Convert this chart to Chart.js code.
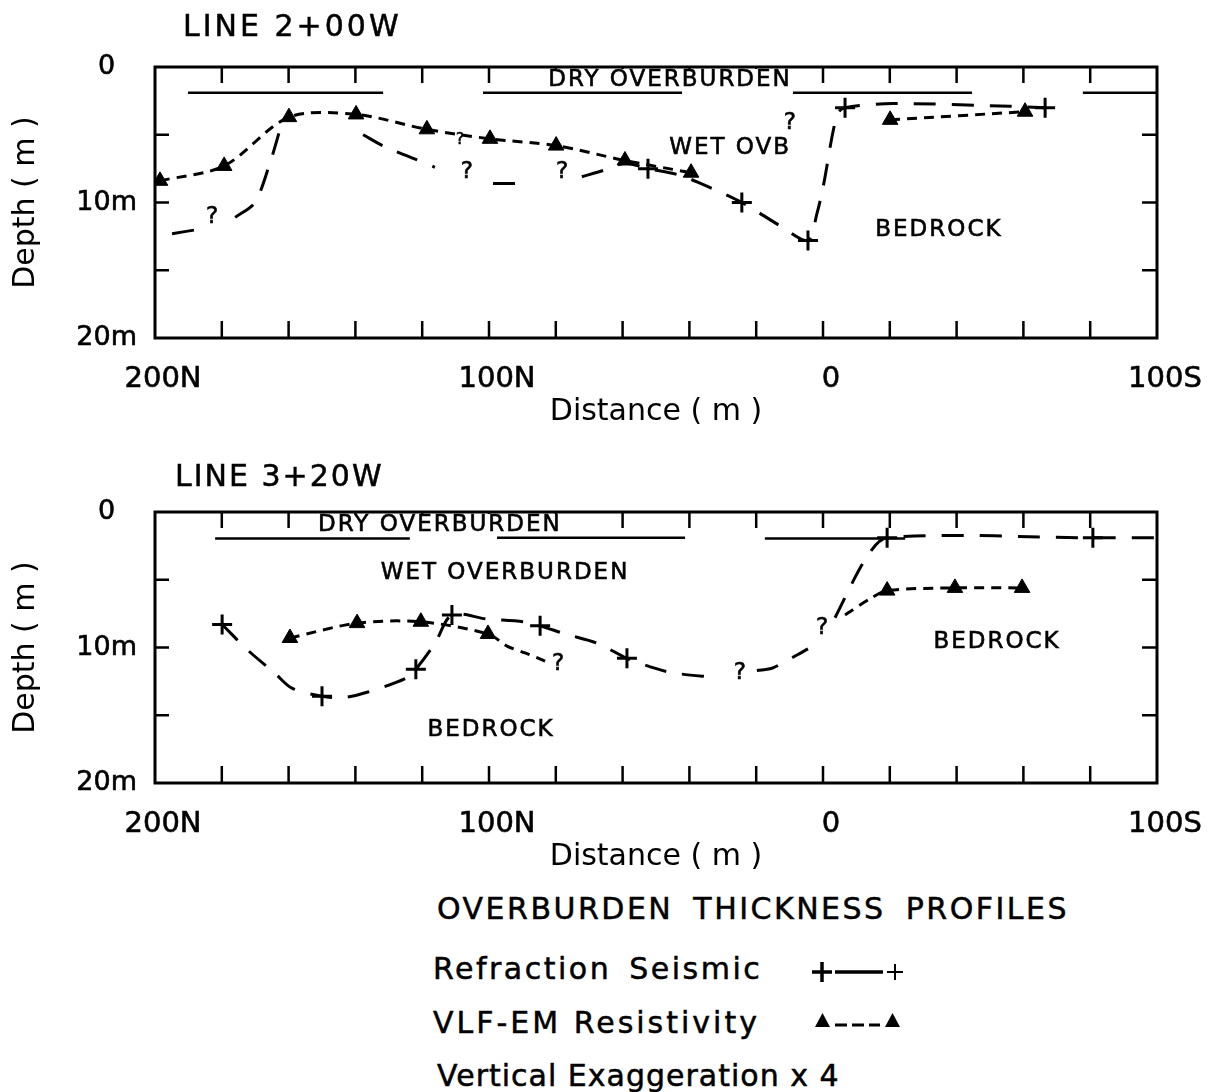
<!DOCTYPE html>
<html>
<head>
<meta charset="utf-8">
<script src="https://cdn.jsdelivr.net/npm/chart.js@4.4.0/dist/chart.umd.min.js"></script>
<style>
html,body{margin:0;padding:0;background:#fff;}
#page{position:relative;width:1211px;height:1092px;overflow:hidden;font-family:"DejaVu Sans",sans-serif;color:#000;background:#fff;}
canvas{position:absolute;left:0;}
.t{position:absolute;white-space:nowrap;line-height:1;font-size:30px;-webkit-text-stroke:0.5px #000;}
svg{position:absolute;}
</style>
</head>
<body>
<div id="page">
  <canvas id="c1" width="1211" height="440" style="top:0px;width:1211px;height:440px"></canvas>
  <canvas id="c2" width="1211" height="440" style="top:445px;width:1211px;height:440px"></canvas>
  <div class="t" style="left:183px;top:11px;letter-spacing:3px;">LINE 2+00W</div>
  <div class="t" style="left:175px;top:461px;letter-spacing:2px;">LINE 3+20W</div>
  <div class="t" style="left:437px;top:894px;letter-spacing:2.5px;word-spacing:8px;">OVERBURDEN THICKNESS PROFILES</div>
  <div class="t" style="left:433px;top:954px;letter-spacing:2.5px;word-spacing:6px;">Refraction Seismic</div>
  <svg style="left:810px;top:958px" width="100" height="28" viewBox="0 0 100 28">
    <path d="M2 14H22M12 4V24" stroke="#000" stroke-width="3.5" fill="none"/>
    <path d="M25 14H73" stroke="#000" stroke-width="3.5" fill="none"/>
    <path d="M77 14H93M85 6V22" stroke="#000" stroke-width="2" fill="none"/>
  </svg>
  <div class="t" style="left:433px;top:1008px;letter-spacing:3px;">VLF-EM Resistivity</div>
  <svg style="left:812px;top:1010px" width="95" height="22" viewBox="0 0 95 22">
    <path d="M3 17L10.5 3L18 17Z" fill="#000"/>
    <path d="M23 15H35M40 15H52M57 15H68" stroke="#000" stroke-width="3" fill="none"/>
    <path d="M73 17L80.5 3L88 17Z" fill="#000"/>
  </svg>
  <div class="t" style="left:437px;top:1061px;letter-spacing:1px;">Vertical Exaggeration x 4</div>
</div>
<script>
// ---------- axes ----------
const xTickValues = [-200, -100, 0, 100];
const xTickLabels = ['200N', '100N', '0', '100S'];
const yTickValues = [0, 10, 20];
const yTickLabels = ['0', '10m', '20m'];
const xMinorTicks = [-180, -160, -140, -120, -100, -80, -60, -40, -20, 0, 20, 40, 60, 80];
const yMinorTicks = [5, 10, 15];

// ---------- LINE 2+00W ----------
const l1WaterX = [-190.1, -131.7, null, -101.8, -42.2, null, -9.0, 44.6, null, 77.8, 100];
const l1WaterD = [1.9, 1.9, null, 1.9, 1.9, null, 1.9, 1.9, null, 1.9, 1.9];
const l1SeisPtX = [-52.4, -24.3, -4.5, 6.6, 66.5];
const l1SeisPtD = [7.5, 10.0, 12.8, 3.0, 3.0];
const l1SeisLineX = [-194.9, -187.4, null, -176.0, -170.1, -165.6, -162.8, null, -137.7, -131.1, -123.1, -116.2, null, -98.8, -89.8, null, -72.2, -65.3, -59.3, -52.4, -42.8, -33.8, -24.3, -12.3, -4.5, -1.8, 0.0, 4.2, 6.6, 21.0, 56.0, 66.5];
const l1SeisLineD = [12.3, 12.0, null, 11.1, 10.0, 7.1, 4.8, null, 5.0, 5.9, 6.7, 7.4, null, 8.6, 8.6, null, 8.1, 7.6, 7.1, 7.5, 8.0, 8.9, 10.0, 11.8, 12.8, 10.8, 8.9, 3.5, 3.0, 2.7, 2.9, 3.0];
const l1VlfPtX = [-198.5, -179.3, -159.9, -139.8, -118.6, -99.7, -79.9, -59.3, -39.5, 20.1, 60.5];
const l1VlfPtD = [8.4, 7.3, 3.7, 3.5, 4.6, 5.3, 5.8, 6.9, 7.8, 3.9, 3.3];
const l1VlfLineX = [-198.5, -179.3, -159.9, -139.8, -118.6, -99.7, -79.9, -59.3, -39.5, null, 20.1, 60.5];
const l1VlfLineD = [8.4, 7.3, 3.7, 3.5, 4.6, 5.3, 5.8, 6.9, 7.8, null, 3.9, 3.3];
const l1NoteText = ['DRY OVERBURDEN', 'WET OVB', 'BEDROCK', '?', '?', '?', '?', '?'];
const l1NoteX = [-45.8, -27.8, 34.7, -182.9, -106.6, -78.1, -9.9, -108.7];
const l1NoteD = [0.96, 6.0, 12.0, 11.1, 7.75, 7.75, 4.1, 5.4];

// ---------- LINE 3+20W ----------
const l2WaterX = [-182.0, -123.7, null, -97.6, -41.3, null, -17.4, 24.6];
const l2WaterD = [1.95, 1.95, null, 1.9, 1.9, null, 1.95, 1.95];
const l2SeisPtX = [-179.9, -150.0, -121.9, -111.1, -84.7, -58.7, 19.2, 80.8];
const l2SeisPtD = [8.3, 13.6, 11.6, 7.6, 8.4, 10.8, 1.9, 1.9];
const l2SeisLineX = [-179.9, -172.2, -164.1, -159.0, -150.0, -143.7, -136.5, -125.1, -121.9, -116.2, -111.1, -100.6, -89.8, -84.7, -77.2, -67.4, -58.7, -49.4, -44.3, -32.3, null, -19.8, -15.0, -4.5, null, 3.6, 12.9, 19.2, 80.8, 100];
const l2SeisLineD = [8.3, 10.2, 11.9, 13.0, 13.6, 13.7, 13.3, 12.3, 11.6, 9.7, 7.6, 7.9, 8.1, 8.4, 9.0, 9.7, 10.8, 11.6, 11.9, 12.2, null, 11.7, 11.5, 10.1, null, 7.8, 3.4, 1.9, 1.9, 1.9];
const l2VlfPtX = [-159.6, -139.5, -120.4, -100.3, 19.2, 39.5, 59.6];
const l2VlfPtD = [9.3, 8.2, 8.1, 9.0, 5.8, 5.6, 5.6];
const l2VlfLineX = [-159.6, -139.5, -120.4, -100.3, -94.6, -89.2, -83.2, null, 6.6, 14.1, 19.2, 39.5, 59.6];
const l2VlfLineD = [9.3, 8.2, 8.1, 9.0, 9.9, 10.4, 11.0, null, 7.6, 6.4, 5.8, 5.6, 5.6];
const l2NoteText = ['DRY OVERBURDEN', 'WET OVERBURDEN', 'BEDROCK', 'BEDROCK', '?', '?', '?'];
const l2NoteX = [-114.7, -95.2, -99.4, 52.1, -79.3, -24.9, -0.3];
const l2NoteD = [0.96, 4.5, 16.1, 9.6, 11.2, 11.9, 8.6];

const FONT = '"DejaVu Sans", sans-serif';
const zip = (xs, ds) => xs.map((x, i) => ({x: x, y: ds[i]}));

const framePlugin = {
  id: 'frame',
  beforeDatasetsDraw(chart, args, opts) {
    const {ctx, chartArea: a, scales: {x, y}} = chart;
    ctx.save();
    ctx.strokeStyle = '#000';
    ctx.lineWidth = 2.5;
    ctx.beginPath();
    xMinorTicks.forEach(v => {
      const px = x.getPixelForValue(v);
      ctx.moveTo(px, a.top); ctx.lineTo(px, a.top + 16);
      ctx.moveTo(px, a.bottom); ctx.lineTo(px, a.bottom - 17);
    });
    yMinorTicks.forEach(v => {
      const py = y.getPixelForValue(v);
      ctx.moveTo(a.left, py); ctx.lineTo(a.left + 14, py);
      ctx.moveTo(a.right, py); ctx.lineTo(a.right - 15, py);
    });
    ctx.stroke();
    // annotations
    const notes = opts.notes;
    ctx.textAlign = 'center';
    ctx.textBaseline = 'middle';
    ctx.lineWidth = 0.6;
    notes.text.forEach((t, i) => {
      const px = x.getPixelForValue(notes.x[i]);
      const py = y.getPixelForValue(notes.d[i]);
      const small = (t === '?' && notes.small === i);
      ctx.font = (small ? '15px ' : '23px ') + FONT;
      ctx.letterSpacing = t.length > 1 ? '2px' : '0px';
      if (t === 'DRY OVERBURDEN') {
        const w = ctx.measureText(t).width;
        ctx.fillStyle = '#fff';
        ctx.fillRect(px - w / 2 - 6, a.top + 2, w + 12, py + 10 - a.top - 2);
      }
      ctx.fillStyle = '#000';
      ctx.fillText(t, px, py);
      ctx.strokeText(t, px, py);
    });
    ctx.restore();
  },
  afterDatasetsDraw(chart) {
    const {ctx, chartArea: a} = chart;
    ctx.save();
    ctx.strokeStyle = '#000';
    ctx.lineWidth = 3;
    ctx.strokeRect(a.left, a.top, a.right - a.left, a.bottom - a.top);
    ctx.restore();
  }
};

function makeChart(id, s, notes) {
  return new Chart(document.getElementById(id), {
    type: 'line',
    data: {
      datasets: [
        {label: 'Dry overburden base', data: zip(s.waterX, s.waterD), borderColor: '#000', borderWidth: 2.5, pointRadius: 0, tension: 0},
        {label: 'Refraction Seismic', data: zip(s.seisLineX, s.seisLineD), borderColor: '#000', borderWidth: 3, borderDash: [22, 16], pointRadius: 0, tension: 0.3},
        {label: 'Refraction Seismic points', data: zip(s.seisPtX, s.seisPtD), showLine: false, pointStyle: 'cross', pointRadius: 10, borderColor: '#000', pointBorderWidth: 3},
        {label: 'VLF-EM Resistivity', data: zip(s.vlfLineX, s.vlfLineD), borderColor: '#000', borderWidth: 3, borderDash: [10, 7], pointRadius: 0, tension: 0.3},
        {label: 'VLF-EM Resistivity points', data: zip(s.vlfPtX, s.vlfPtD), showLine: false, pointStyle: 'triangle', pointRadius: 9, backgroundColor: '#000', borderColor: '#000', pointBorderWidth: 1}
      ]
    },
    options: {
      responsive: false,
      animation: false,
      events: [],
      layout: {padding: {top: 67, left: 0, right: 54, bottom: 0}},
      plugins: {legend: {display: false}, tooltip: {enabled: false}, frame: {notes: notes}},
      scales: {
        x: {
          type: 'linear', min: -200, max: 100,
          grid: {display: false}, border: {display: false},
          afterBuildTicks: sc => { sc.ticks = xTickValues.map(v => ({value: v})); },
          ticks: {
            callback: v => xTickLabels[xTickValues.indexOf(v)],
            font: {family: FONT, size: 29}, color: '#000', padding: 16,
            maxRotation: 0, autoSkip: false, labelOffset: 8,
            textStrokeColor: '#000', textStrokeWidth: 0.6
          },
          title: {display: true, text: 'Distance ( m )', font: {family: FONT, size: 30}, color: '#000', padding: {top: 0, bottom: 10}},
          afterFit: sc => { sc.height = 102; }
        },
        y: {
          type: 'linear', reverse: true, min: 0, max: 20,
          grid: {display: false}, border: {display: false},
          afterBuildTicks: sc => { sc.ticks = yTickValues.map(v => ({value: v})); },
          ticks: {
            callback: v => yTickLabels[yTickValues.indexOf(v)],
            font: {family: FONT, size: 27}, color: '#000', padding: 10, crossAlign: 'center',
            textStrokeColor: '#000', textStrokeWidth: 0.6
          },
          title: {display: true, text: 'Depth ( m )', font: {family: FONT, size: 30}, color: '#000', padding: {top: 8, bottom: 0}},
          afterFit: sc => { sc.width = 155; }
        }
      }
    },
    plugins: [framePlugin]
  });
}

makeChart('c1', {
  waterX: l1WaterX, waterD: l1WaterD,
  seisLineX: l1SeisLineX, seisLineD: l1SeisLineD, seisPtX: l1SeisPtX, seisPtD: l1SeisPtD,
  vlfLineX: l1VlfLineX, vlfLineD: l1VlfLineD, vlfPtX: l1VlfPtX, vlfPtD: l1VlfPtD
}, {text: l1NoteText, x: l1NoteX, d: l1NoteD, small: 7});

makeChart('c2', {
  waterX: l2WaterX, waterD: l2WaterD,
  seisLineX: l2SeisLineX, seisLineD: l2SeisLineD, seisPtX: l2SeisPtX, seisPtD: l2SeisPtD,
  vlfLineX: l2VlfLineX, vlfLineD: l2VlfLineD, vlfPtX: l2VlfPtX, vlfPtD: l2VlfPtD
}, {text: l2NoteText, x: l2NoteX, d: l2NoteD, small: -1});
</script>
</body>
</html>
